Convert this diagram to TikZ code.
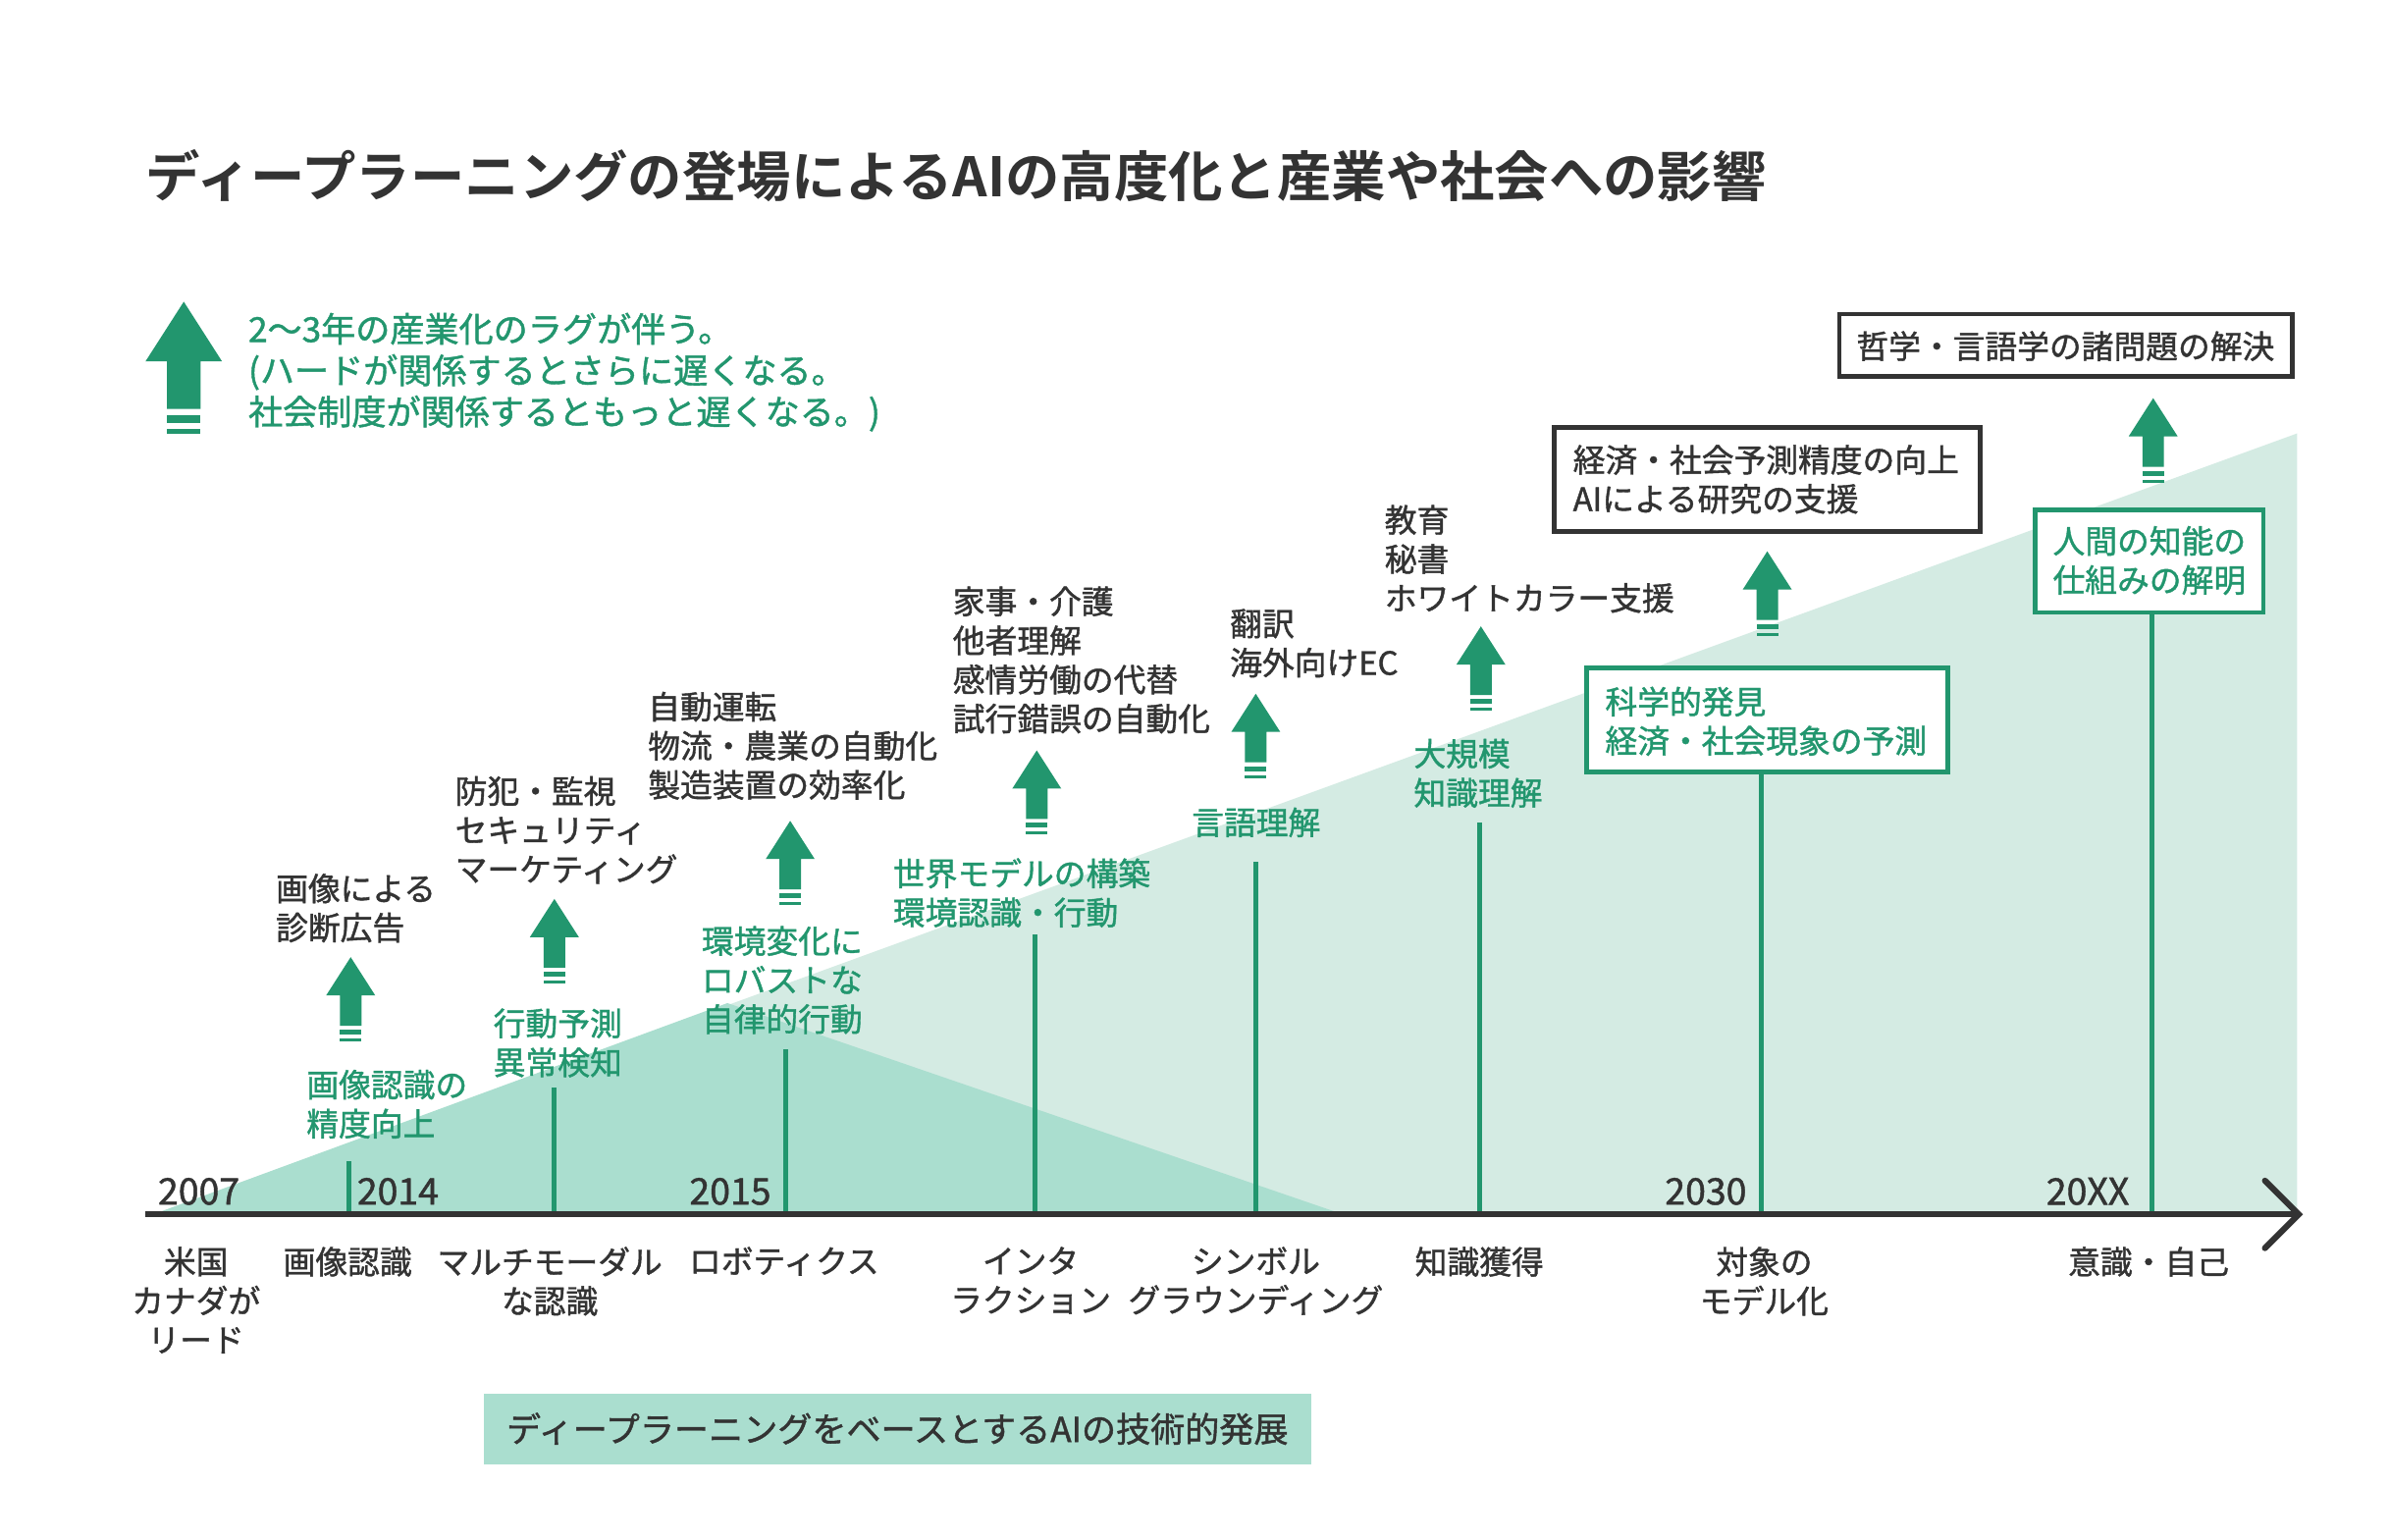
\documentclass[tikz,border=0pt]{standalone}
\usepackage{fontspec}
\setmainfont{Noto Sans CJK JP}[BoldFont={* Bold}]
\newfontfamily\med{Noto Sans CJK JP}[RawFeature={embolden=1.2}]
\definecolor{gr}{HTML}{22966E}
\definecolor{lt}{HTML}{D4EBE3}
\definecolor{dk}{HTML}{AADECF}
\definecolor{tx}{HTML}{333333}
\tikzset{
 lbl/.style={anchor=west,align=left,inner sep=0,text=tx,font=\med\fontsize{21}{25.5}\selectfont},
 glbl/.style={lbl,text=gr},
 blbl/.style={inner sep=0,align=center,text=tx,font=\med\fontsize{21}{25.5}\selectfont},
 yr/.style={anchor=west,inner sep=0,text=tx,font=\med\fontsize{24}{25}\selectfont},
 vline/.style={draw=gr,line width=3pt},
 uparr/.pic={
   \fill[gr] (0,0) -- (25,-39) -- (11,-39) -- (11,-70) -- (-11,-70) -- (-11,-39) -- (-25,-39) -- cycle;
   \fill[gr] (-11,-74) rectangle (11,-79);
   \fill[gr] (-11,-83) rectangle (11,-86);
 }
}
\begin{document}
\begin{tikzpicture}[x=1pt,y=1pt]
\useasboundingbox (0,0) rectangle (1560,-1005.6);
\fill[white] (0,0) rectangle (1560,-1005.6);
% triangles
\fill[lt] (100,-793) -- (1500,-283) -- (1500,-793) -- cycle;
\fill[dk] (100,-793) -- (475,-655) -- (877,-793) -- cycle;
% title
\node[anchor=west,inner sep=0,text=tx,font=\fontsize{35.5}{40}\selectfont\bfseries] (title) at (95,-115) {ディープラーニングの登場によるAIの高度化と産業や社会への影響};
% legend
\pic at (120,-197) {uparr};
\node[glbl,font=\med\fontsize{22.5}{27}\selectfont] (leg) at (162,-243) {2〜3年の産業化のラグが伴う。\\(ハードが関係するとさらに遅くなる。\\社会制度が関係するともっと遅くなる。)};
% axis
\coordinate (a0) at (95,-793);
\coordinate (a1) at (1501,-793);
% vertical lines
\foreach \n/\x/\t in {v1/228/758, v2/362/710, v3/513/685, v4/676/610, v5/820/563, v6/966/537, v7/1150/505, v8/1405/400}{
  \coordinate (\n b) at (\x,-793); \coordinate (\n t) at (\x,-\t);
  \draw[vline] (\n b) -- (\n t);
}
\draw[tx,line width=4pt] (a0) -- (a1);
\draw[tx,line width=4pt,line cap=round,line join=miter] (1479,-771) -- (1501,-793) -- (1479,-815);
% years
\node[yr] (y1) at (103,-778) {2007};
\node[yr] (y2) at (233,-778) {2014};
\node[yr] (y3) at (450,-778) {2015};
\node[yr] (y4) at (1087,-778) {2030};
\node[yr] (y5) at (1336,-778) {20XX};
% bottom labels
\node[blbl,anchor=north] (b1) at (128,-814) {米国\\カナダが\\リード};
\node[blbl,anchor=north] (b2) at (227,-814) {画像認識};
\node[blbl,anchor=north] (b3) at (359,-814) {マルチモーダル\\な認識};
\node[blbl,anchor=north] (b4) at (512,-814) {ロボティクス};
\node[blbl,anchor=north] (b5) at (673,-814) {インタ\\ラクション};
\node[blbl,anchor=north] (b6) at (820,-814) {シンボル\\グラウンディング};
\node[blbl,anchor=north] (b7) at (966,-814) {知識獲得};
\node[blbl,anchor=north] (b8) at (1152,-814) {対象の\\モデル化};
\node[blbl,anchor=north] (b9) at (1403,-814) {意識・自己};
% green labels
\node[glbl] (g1) at (200,-721) {画像認識の\\精度向上};
\node[glbl] (g2) at (322,-681) {行動予測\\異常検知};
\node[glbl] (g3) at (458,-640) {環境変化に\\ロバストな\\自律的行動};
\node[glbl] (g4) at (583,-583) {世界モデルの構築\\環境認識・行動};
\node[glbl] (g5) at (778,-537) {言語理解};
\node[glbl] (g6) at (923,-505) {大規模\\知識理解};
% arrows
\pic[scale=0.64] at (229,-625) {uparr};
\pic[scale=0.64] at (362,-587) {uparr};
\pic[scale=0.64] at (516,-536) {uparr};
\pic[scale=0.64] at (677,-490) {uparr};
\pic[scale=0.64] at (820,-453) {uparr};
\pic[scale=0.64] at (967,-409) {uparr};
\pic[scale=0.64] at (1154,-360) {uparr};
\pic[scale=0.64] at (1406,-260) {uparr};
% dark labels
\node[lbl] (d1) at (180,-593) {画像による\\診断広告};
\node[lbl] (d2) at (297,-542) {防犯・監視\\セキュリティ\\マーケティング};
\node[lbl] (d3) at (423,-487) {自動運転\\物流・農業の自動化\\製造装置の効率化};
\node[lbl] (d4) at (622,-431) {家事・介護\\他者理解\\感情労働の代替\\試行錯誤の自動化};
\node[lbl] (d5) at (803,-420) {翻訳\\海外向けEC};
\node[lbl] (d6) at (904,-365) {教育\\秘書\\ホワイトカラー支援};
% boxes
\node[draw=tx,line width=3pt,fill=white,minimum width=296pt,minimum height=41pt,inner sep=0] (k1) at (1349,-225.5) {};
\node[lbl] (k1t) at (1212,-226) {哲学・言語学の諸問題の解決};
\node[draw=tx,line width=3pt,fill=white,minimum width=278pt,minimum height=68pt,inner sep=0] (k2) at (1154,-313) {};
\node[lbl] (k2t) at (1027,-313) {経済・社会予測精度の向上\\AIによる研究の支援};
\node[draw=gr,line width=3pt,fill=white,minimum width=236pt,minimum height=68pt,inner sep=0] (k3) at (1154,-470) {};
\node[glbl] (k3t) at (1048,-471) {科学的発見\\経済・社会現象の予測};
\node[draw=gr,line width=3pt,fill=white,minimum width=149pt,minimum height=67pt,inner sep=0] (k4) at (1403.5,-366.5) {};
\node[glbl,anchor=center,align=center] (k4t) at (1403.5,-366) {人間の知能の\\仕組みの解明};
% bottom box
\node[fill=dk,minimum width=540pt,minimum height=46pt,inner sep=0,text=tx,font=\med\fontsize{22.5}{25}\selectfont] (bb) at (586,-933) {ディープラーニングをベースとするAIの技術的発展};
\end{tikzpicture}
\end{document}
